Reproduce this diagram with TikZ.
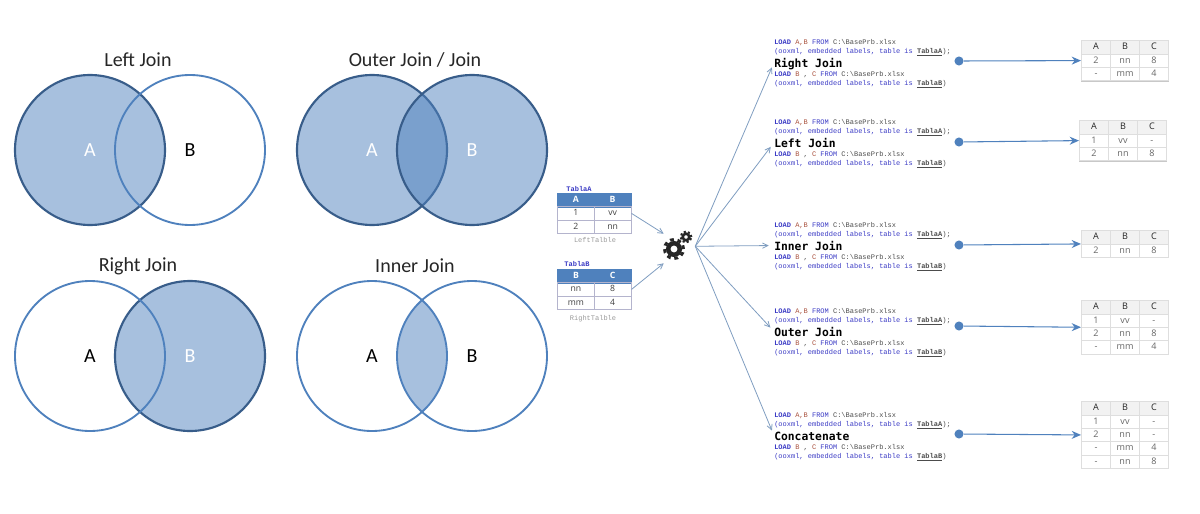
\documentclass[tikz,border=0pt]{standalone}
\usepackage{fontspec}
\usepackage{xcolor}
\usetikzlibrary{positioning,arrows.meta,matrix}
\setmainfont{Carlito}
\newfontfamily\codefont{Liberation Mono}
\newfontfamily\titlefont{DejaVu Sans Mono}
\newfontfamily\cellfont{Open Sans}
\definecolor{vennblue}{HTML}{4F81BD}
\definecolor{venndark}{HTML}{385D8A}
\definecolor{lensblue}{HTML}{A7C0DE}
\definecolor{fanblue}{HTML}{7F9DC0}
\definecolor{kwblue}{HTML}{3A3AC4}
\definecolor{fldred}{HTML}{A8503C}
\definecolor{gridgray}{HTML}{C8C8C8}
\newcommand{\codeupper}{{\color{kwblue}\textbf{LOAD}} {\color{fldred}A,B} {\color{kwblue}FROM} C:\textbackslash BasePrb.xlsx\\{\color{kwblue}(ooxml, embedded labels, table is} \textbf{\underline{TablaA}});}
\newcommand{\codelower}{{\color{kwblue}\textbf{LOAD}} {\color{fldred}B} , {\color{fldred}C} {\color{kwblue}FROM} C:\textbackslash BasePrb.xlsx\\{\color{kwblue}(ooxml, embedded labels, table is} \textbf{\underline{TablaB}})}
\tikzset{
  vennfill/.style={circle, minimum size=112.5pt, inner sep=0pt, fill=vennblue, fill opacity=.5,
                   text opacity=1, draw=venndark, draw opacity=1, line width=1.6pt,
                   text=white, font=\fontsize{15}{18}\selectfont},
  vennline/.style={circle, minimum size=112.5pt, inner sep=0pt, draw=vennblue, line width=1.4pt,
                   font=\fontsize{15}{18}\selectfont},
  venntitle/.style={font=\fontsize{15}{18}\selectfont, text=black!85},
  srctable/.style={matrix of nodes, inner sep=0pt, draw=gridgray, column sep=-.5pt, row sep=-.5pt,
                   nodes={draw=blue!10!gridgray, minimum width=27.6pt, minimum height=10pt, inner sep=0pt,
                          text height=4.8pt, text depth=1.2pt,
                          font=\cellfont\fontsize{6.5}{7}\selectfont, text=black!75},
                   row 1/.style={nodes={fill=vennblue, draw=vennblue, text=white, font=\cellfont\bfseries\fontsize{6.5}{7}\selectfont}}},
  restable/.style={matrix of nodes, inner sep=0pt, draw=gridgray, column sep=-.5pt, row sep=-.5pt,
                   nodes={draw=gridgray!60, minimum width=21.8pt, minimum height=10.1pt, inner sep=0pt,
                          text height=4.8pt, text depth=1.2pt,
                          font=\cellfont\fontsize{6.8}{7}\selectfont, text=black!60},
                   row 1/.style={nodes={fill=black!5, text=black!85}}},
  tablbl/.style={font=\codefont\bfseries\fontsize{5.25}{6}\selectfont, text=kwblue},
  tabcap/.style={font=\codefont\fontsize{5.25}{6}\selectfont, text=black!40},
  jointitle/.style={inner sep=0pt, anchor=west, text height=7.7pt, text depth=.8pt,
                    font=\titlefont\bfseries\fontsize{8.5}{10}\selectfont},
  code/.style={inner sep=0pt, align=left, font=\codefont\fontsize{5.25}{6.4}\selectfont, text=black!70},
  fan/.style={-{Straight Barb[length=4pt,width=4pt]}, line width=.6pt, fanblue},
  dot/.style={circle, fill=vennblue, inner sep=0pt, minimum size=6.8pt},
  res/.style={-{Stealth[length=7pt,width=6pt]}, line width=.8pt, vennblue},
  gearbody/.style={circle, draw=black!85, inner sep=0pt, outer sep=0pt},
  gearbig/.style={gearbody, minimum size=8.6pt, line width=3.4pt},
  gearbigteeth/.style={gearbody, minimum size=14.25pt, line width=2.25pt, dash pattern=on 2.8pt off 2.8pt},
  gearsmall/.style={gearbody, minimum size=4.9pt, line width=1.9pt},
  gearsmallteeth/.style={gearbody, minimum size=8.25pt, line width=1.5pt, dash pattern=on 1.62pt off 1.62pt}
}
\begin{document}
\begin{tikzpicture}[x=0.75pt,y=-0.75pt]
  \useasboundingbox (0,0) rectangle (1200,514);
  % venn diagrams
  \node[venntitle] (lefttitle) at (138,60) {Left Join};
  \node[vennfill] (leftA) at (90,150) {A};
  \node[vennline] (leftB) at (190,150) {B};
  \node[venntitle] (outertitle) at (415,60) {Outer Join / Join};
  \node[vennfill] (outerA) at (372,150) {A};
  \node[vennfill] (outerB) at (472,150) {B};
  \node[venntitle] (righttitle) at (138,266) {Right Join};
  \node[vennfill] (rightB) at (190,356) {B};
  \node[vennline] (rightA) at (90,356) {A};
  \node[venntitle] (innertitle) at (415,266) {Inner Join};
  \begin{scope}
    \clip (372,356) circle (56.25pt);
    \fill[lensblue] (472,356) circle (56.25pt);
  \end{scope}
  \node[vennline] (innerA) at (372,356) {A};
  \node[vennline] (innerB) at (472,356) {B};
  % source tables
  \matrix[srctable, anchor=north west] (tablaA) at (557,193) {
    A & B\\
    1 & vv\\
    2 & nn\\
  };
  \node[tablbl] (tablaAname) at (579,189) {TablaA};
  \node[tabcap] (tablaAcap) at (595,240) {LeftTalble};
  \matrix[srctable, anchor=north west] (tablaB) at (557,269) {
    B & C\\
    nn & 8\\
    mm & 4\\
  };
  \node[tablbl] (tablaBname) at (577,264) {TablaB};
  \node[tabcap] (tablaBcap) at (593,319) {RightTalble};
  % gears
  \node[minimum width=23.25pt, minimum height=21.75pt, inner sep=0pt] (gears) at (679.5,248.5) {};
  \node[gearbigteeth] (gear1teeth) at (674,249) {};
  \node[gearbig] (gear1) at (674,249) {};
  \node[gearsmallteeth] (gear2teeth) at (686,237) {};
  \node[gearsmall] (gear2) at (686,237) {};
  \draw[fan] (tablaA.east) -- (gears.north west);
  \draw[fan] (tablaB.east) -- (gears.south west);
  % load scripts
  \node[jointitle] (title1) at (774,62.5) {Right Join};
  \node[code, above right=.1pt and 0pt of title1.north west] (upper1) {\codeupper};
  \node[code, below right=2.2pt and 0pt of title1.south west] (lower1) {\codelower};
  \node[jointitle] (title2) at (774,142.5) {Left Join};
  \node[code, above right=.1pt and 0pt of title2.north west] (upper2) {\codeupper};
  \node[code, below right=2.2pt and 0pt of title2.south west] (lower2) {\codelower};
  \node[jointitle] (title3) at (774,245.5) {Inner Join};
  \node[code, above right=.1pt and 0pt of title3.north west] (upper3) {\codeupper};
  \node[code, below right=2.2pt and 0pt of title3.south west] (lower3) {\codelower};
  \node[jointitle] (title4) at (774,331.5) {Outer Join};
  \node[code, above right=.1pt and 0pt of title4.north west] (upper4) {\codeupper};
  \node[code, below right=2.2pt and 0pt of title4.south west] (lower4) {\codelower};
  \node[jointitle] (title5) at (774,435.5) {Concatenate};
  \node[code, above right=.1pt and 0pt of title5.north west] (upper5) {\codeupper};
  \node[code, below right=2.2pt and 0pt of title5.south west] (lower5) {\codelower};
  \draw[fan, shorten >=4pt] (gears.8) -- (title1.west);
  \draw[fan, shorten >=4pt] (gears.8) -- (title2.west);
  \draw[fan, shorten >=4pt] (gears.8) -- (title3.west);
  \draw[fan, shorten >=4pt] (gears.8) -- (title4.west);
  \draw[fan, shorten >=4pt] (gears.8) -- (title5.west);
  % result tables
  \matrix[restable, anchor=north west] (res1) at (1081,40) {
    A & B & C\\
    2 & nn & 8\\
    - & mm & 4\\
  };
  \matrix[restable, anchor=north west] (res2) at (1079,120) {
    A & B & C\\
    1 & vv & -\\
    2 & nn & 8\\
  };
  \matrix[restable, anchor=north west] (res3) at (1081,230) {
    A & B & C\\
    2 & nn & 8\\
  };
  \matrix[restable, anchor=north west] (res4) at (1081,300) {
    A & B & C\\
    1 & vv & -\\
    2 & nn & 8\\
    - & mm & 4\\
  };
  \matrix[restable, anchor=north west] (res5) at (1081,401) {
    A & B & C\\
    1 & vv & -\\
    2 & nn & -\\
    - & mm & 4\\
    - & nn & 8\\
  };
  \node[dot] (dot1) at (959,61) {};
  \node[dot] (dot2) at (959,142) {};
  \node[dot] (dot3) at (959,245) {};
  \node[dot] (dot4) at (959,326) {};
  \node[dot] (dot5) at (959,434) {};
  \draw[res] (dot1) -- (res1.west);
  \draw[res] (dot2) -- (res2.west);
  \draw[res] (dot3) -- (res3.west);
  \draw[res] (dot4) -- (res4.west);
  \draw[res] (dot5) -- (res5.west);
\end{tikzpicture}
\end{document}
